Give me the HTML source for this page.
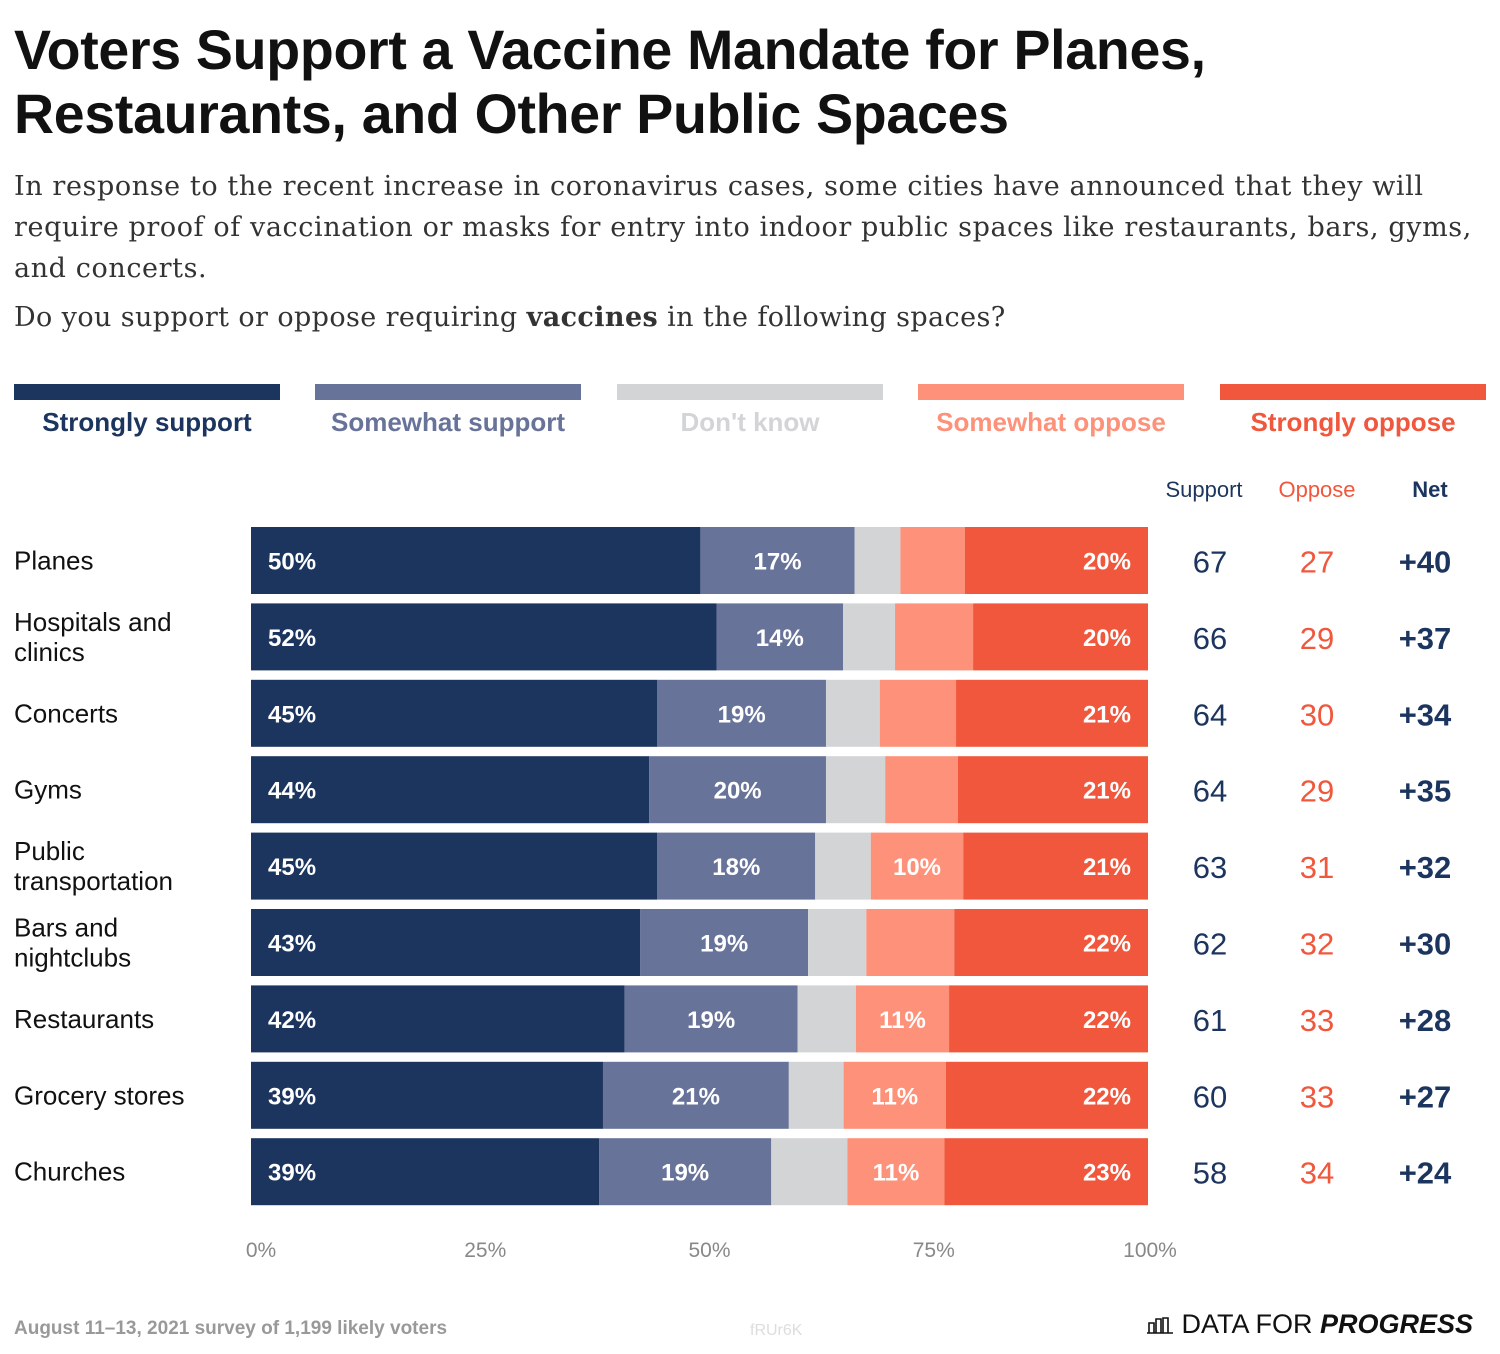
<!DOCTYPE html>
<html><head><meta charset="utf-8"><style>
body{margin:0;background:#fff;width:1500px;height:1354px;overflow:hidden;font-family:"Liberation Sans",sans-serif;}
.title{position:absolute;left:14px;top:18px;font-size:55.5px;font-weight:bold;color:#111;line-height:64px;letter-spacing:-0.3px;white-space:nowrap}
.sub{position:absolute;left:14px;top:166px;width:1480px;font-family:"DejaVu Serif",serif;font-size:27px;color:#333;line-height:41px;white-space:nowrap;letter-spacing:0.6px}
.q{position:absolute;left:14px;top:302px;font-family:"DejaVu Serif",serif;font-size:27px;color:#333;letter-spacing:0.4px}
.lg{position:absolute;top:384px;height:16px;width:266px}
.lt{position:absolute;top:407px;width:266px;text-align:center;font-size:26px;font-weight:bold}
.foot{position:absolute;top:1318px;font-size:19px;font-weight:bold;color:#999}
</style></head><body>
<div class="title">Voters Support a Vaccine Mandate for Planes,<br>Restaurants, and Other Public Spaces</div>
<div class="sub">In response to the recent increase in coronavirus cases, some cities have announced that they will<br>require proof of vaccination or masks for entry into indoor public spaces like restaurants, bars, gyms,<br>and concerts.</div>
<div class="q">Do you support or oppose requiring <b>vaccines</b> in the following spaces?</div>
<div class="lg" style="left:14px;background:#1c355e"></div>
<div class="lt" style="left:14px;color:#1c355e">Strongly support</div>
<div class="lg" style="left:315px;background:#68739a"></div>
<div class="lt" style="left:315px;color:#68739a">Somewhat support</div>
<div class="lg" style="left:617px;background:#d3d4d6"></div>
<div class="lt" style="left:617px;color:#d3d4d6">Don't know</div>
<div class="lg" style="left:918px;background:#fd9179"></div>
<div class="lt" style="left:918px;color:#fd9179">Somewhat oppose</div>
<div class="lg" style="left:1220px;background:#f0573c"></div>
<div class="lt" style="left:1220px;color:#f0573c">Strongly oppose</div>
<svg id="chart" width="1500" height="1354" style="position:absolute;left:0;top:0"></svg>
<div class="foot" style="left:14px">August 11–13, 2021 survey of 1,199 likely voters</div>
<div class="foot" style="left:750px;font-weight:normal;color:#ddd;font-size:16px;top:1322px">fRUr6K</div>
<div style="position:absolute;left:1146px;top:1309px;font-size:27px;color:#111;white-space:nowrap"><svg width="28" height="22" style="vertical-align:-1px"><path d="M1 21h26M3 21v-10h5v10M10 21v-14h5v14M17 21v-15h5v15" fill="none" stroke="#111" stroke-width="1.6"/></svg> DATA FOR <b><i>PROGRESS</i></b></div>
<script>
const categories=["Planes","Hospitals and|clinics","Concerts","Gyms","Public|transportation","Bars and|nightclubs","Restaurants","Grocery stores","Churches"];
const strongSupport=[50.1,51.9,45.3,44.4,45.3,43.4,41.7,39.2,38.8];
const someSupport=[17.2,14.1,18.8,19.7,17.6,18.7,19.3,20.7,19.2];
const dontKnow=[5.1,5.8,6.0,6.6,6.2,6.5,6.5,6.1,8.5];
const someOppose=[7.2,8.7,8.5,8.1,10.3,9.8,10.4,11.4,10.8];
const strongOppose=[20.4,19.5,21.4,21.2,20.6,21.6,22.2,22.5,22.7];
const strongSupportLabels=["50%","52%","45%","44%","45%","43%","42%","39%","39%"];
const someSupportLabels=["17%","14%","19%","20%","18%","19%","19%","21%","19%"];
const someOpposeLabels=["","","","","10%","","11%","11%","11%"];
const strongOpposeLabels=["20%","20%","21%","21%","21%","22%","22%","22%","23%"];
const supportTotals=[67,66,64,64,63,62,61,60,58];
const opposeTotals=[27,29,30,29,31,32,33,33,34];
const netValues=["+40","+37","+34","+35","+32","+30","+28","+27","+24"];
const ticks=[0,25,50,75,100];
const tickLabels=["0%","25%","50%","75%","100%"];

const NS="http://www.w3.org/2000/svg",svg=document.getElementById('chart');
const X0=251,W=897,Y0=527,STEP=76.4,BH=67;
const x=v=>X0+v/100*W, y=i=>Y0+i*STEP;
function mk(t,a,txt){const e=document.createElementNS(NS,t);for(const k in a)e.setAttribute(k,a[k]);if(txt!==undefined)e.textContent=txt;svg.appendChild(e);return e;}
const series=[[strongSupport,"#1c355e",strongSupportLabels,"start"],[someSupport,"#68739a",someSupportLabels,"middle"],[dontKnow,"#d3d4d6",null],[someOppose,"#fd9179",someOpposeLabels,"middle"],[strongOppose,"#f0573c",strongOpposeLabels,"end"]];
const hdr=[["Support",1204,"#1c355e","normal"],["Oppose",1317,"#f0573c","normal"],["Net",1430,"#1c355e","bold"]];
hdr.forEach(h=>{const e=mk('text',{x:h[1],y:497,'text-anchor':'middle','font-size':22,fill:h[2],'font-weight':h[3]},h[0]);

});
categories.forEach((c,i)=>{
  const tot=strongSupport[i]+someSupport[i]+dontKnow[i]+someOppose[i]+strongOppose[i];
  let acc=0;const yy=y(i),cy=yy+BH/2+9;
  series.forEach((s,si)=>{
    const v=s[0][i]/tot*100,x1=x(acc),x2=x(acc+v);
    const r=mk('rect',{x:x1,y:yy,width:x2-x1,height:BH,fill:s[1]});
    
    
    if(s[2]&&s[2][i]){
      const tx=s[3]=="start"?x1+17:s[3]=="end"?x2-17:(x1+x2)/2;
      const t=mk('text',{x:tx,y:cy,'text-anchor':s[3],'font-size':24,'font-weight':'bold',fill:'#fff'},s[2][i]);
      
      
    }
    acc+=v;
  });
  const lines=c.split('|');
  lines.forEach((l,li)=>{
    const t=mk('text',{x:14,y:lines.length==1?cy:yy+BH/2-6+li*30,'font-size':26,fill:'#111'},l);
    
    
  });
  const a=mk('text',{x:1210,y:cy+3,'text-anchor':'middle','font-size':31,fill:'#1c355e'},supportTotals[i]);
  
  
  const b=mk('text',{x:1317,y:cy+3,'text-anchor':'middle','font-size':31,fill:'#f0573c'},opposeTotals[i]);
  
  
  const n=mk('text',{x:1425,y:cy+3,'text-anchor':'middle','font-size':31,'font-weight':'bold',fill:'#1c355e'},netValues[i]);
  
  
});
ticks.forEach((t,i)=>{
  const e=mk('text',{x:x(t)+(i==0?10:i==4?2:10),y:1257,'text-anchor':'middle','font-size':21,fill:'#888'},tickLabels[i]);
  
  
});
</script>
</body></html>
